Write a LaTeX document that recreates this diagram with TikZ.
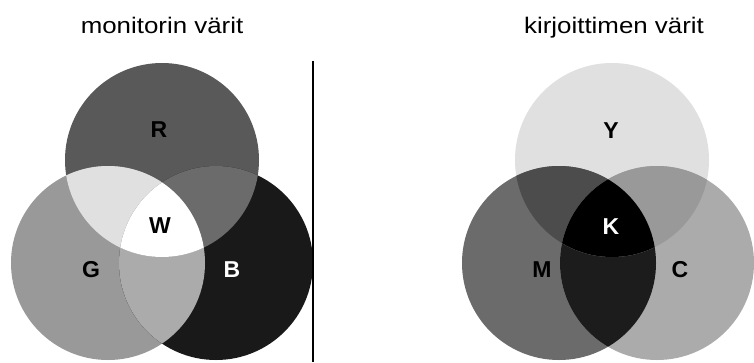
\documentclass[tikz,border=0pt]{standalone}
\usepackage{fontspec}
\setmainfont{Liberation Sans}
\usetikzlibrary{positioning}

\definecolor{redgray}{gray}{0.35}
\definecolor{greengray}{gray}{0.60}
\definecolor{bluegray}{gray}{0.10}
\definecolor{rgmix}{gray}{0.88}
\definecolor{rbmix}{gray}{0.42}
\definecolor{gbmix}{gray}{0.67}
\definecolor{yellowgray}{gray}{0.88}
\definecolor{magentagray}{gray}{0.42}
\definecolor{cyangray}{gray}{0.67}
\definecolor{ymmix}{gray}{0.30}
\definecolor{ycmix}{gray}{0.60}
\definecolor{mcmix}{gray}{0.11}

\begin{document}
\begin{tikzpicture}[
    x=1pt, y=-1pt,
    title/.style={font=\fontsize{22.5}{26}\selectfont, inner sep=0pt, anchor=base},
    letter/.style={font=\fontsize{23}{27}\selectfont\bfseries, inner sep=0pt},
    disc/.style={radius=97pt}
]
\useasboundingbox[fill=white] (0,0) rectangle (754,362);

\coordinate (R) at (162,160);
\coordinate (G) at (108,263);
\coordinate (B) at (216,263);
\coordinate (Y) at (612,160);
\coordinate (M) at (559,263);
\coordinate (C) at (657,263);

% monitor
\fill[redgray] (R) circle[disc];
\fill[greengray] (G) circle[disc];
\fill[bluegray] (B) circle[disc];
\begin{scope}
\clip (G) circle[disc];
\fill[gbmix] (B) circle[disc];
\end{scope}
\begin{scope}
\clip (R) circle[disc];
\fill[rgmix] (G) circle[disc];
\fill[rbmix] (B) circle[disc];
\clip (G) circle[disc];
\fill[white] (B) circle[disc];
\end{scope}

% printer
\fill[yellowgray] (Y) circle[disc];
\fill[magentagray] (M) circle[disc];
\fill[cyangray] (C) circle[disc];
\begin{scope}
\clip (M) circle[disc];
\fill[mcmix] (C) circle[disc];
\end{scope}
\begin{scope}
\clip (Y) circle[disc];
\fill[ymmix] (M) circle[disc];
\fill[ycmix] (C) circle[disc];
\clip (M) circle[disc];
\fill[black] (C) circle[disc];
\end{scope}

\coordinate (sepTop) at (313,61);
\coordinate (sepBot) at (313,362);
\draw[line width=2.2pt] (sepTop) -- (sepBot);

\node[title] (monTitle) at (162,33) {\scalebox{1.15}[1]{monitorin värit}};
\node[title] (prnTitle) at (614,33) {\scalebox{1.15}[1]{kirjoittimen värit}};

\node[letter] (lR) at (159,130) {R};
\node[letter] (lW) at (160,226) {W};
\node[letter] (lG) at (91,270) {G};
\node[letter, text=white] (lB) at (232,270) {B};
\node[letter] (lY) at (611,131) {Y};
\node[letter, text=white] (lK) at (611,227) {K};
\node[letter] (lM) at (542,270) {M};
\node[letter] (lC) at (680,270) {C};
\end{tikzpicture}
\end{document}
